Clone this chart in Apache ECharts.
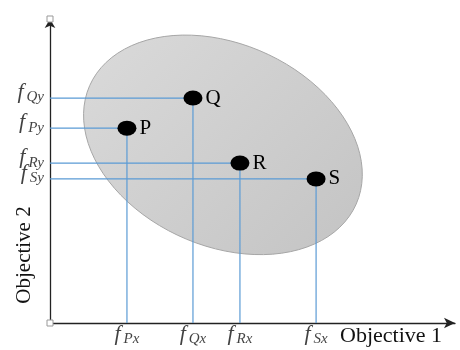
<!DOCTYPE html>
<html>
<head>
<meta charset="utf-8">
<script src="https://cdn.jsdelivr.net/npm/echarts@6/dist/echarts.min.js"></script>
<style>
    html, body { margin: 0; padding: 0; background: #fff; }
    #chart { width: 460px; height: 350px; }
</style>
</head>
<body>
<div id="chart"></div>
<script>
// points in the objective space
var pointNames = ['P', 'Q', 'R', 'S'];
var objective1 = [1.90, 3.53, 4.69, 6.57];
var objective2 = [6.41, 7.40, 5.26, 4.74];
var xTickNames = ['Px', 'Qx', 'Rx', 'Sx'];
var yTickNames = ['Py', 'Qy', 'Ry', 'Sy'];
// feasible region (ellipse): centre and two half axes
var regionCenter = [4.27, 5.86];
var regionAxisA = [3.29, -1.95];
var regionAxisB = [1.01, 3.04];
var axisCorners = [[0, 0], [0, 10]];

var serif = 'Liberation Serif';

// f on top, subscript pushed to the bottom of the line box
var tickRich = {
    f: { fontFamily: serif, fontStyle: 'italic', fontSize: 22, color: '#111', lineHeight: 24, verticalAlign: 'top' },
    s: { fontFamily: serif, fontStyle: 'italic', fontSize: 15, color: '#111', lineHeight: 10, verticalAlign: 'bottom' }
};

function tickLabel(names, position, distance, offset) {
    return {
        show: true,
        position: position,
        distance: distance,
        offset: offset,
        formatter: function (p) { return '{f|f}{s|\u2009' + names[p.dataIndex] + '}'; },
        rich: tickRich
    };
}

function renderRegion(params, api) {
    var pts = [];
    for (var k = 0; k < 90; k++) {
        var t = k / 90 * Math.PI * 2;
        pts.push(api.coord([
            regionCenter[0] + Math.cos(t) * regionAxisA[0] + Math.sin(t) * regionAxisB[0],
            regionCenter[1] + Math.cos(t) * regionAxisA[1] + Math.sin(t) * regionAxisB[1]
        ]));
    }
    return {
        type: 'polygon',
        shape: { points: pts },
        style: {
            fill: new echarts.graphic.LinearGradient(0, 0, 0.8, 1, [
                { offset: 0, color: '#dadada' },
                { offset: 1, color: '#c6c6c6' }
            ]),
            stroke: '#a6a6a6',
            lineWidth: 1
        }
    };
}

var option = {
    animation: false,
    grid: { left: 50, right: 5, top: 19, bottom: 27, outerBoundsMode: 'none' },
    xAxis: {
        type: 'value',
        min: 0,
        max: 10,
        splitLine: { show: false },
        axisTick: { show: false },
        axisLabel: { show: false },
        axisLine: { show: true, symbol: ['none', 'arrow'], symbolSize: [8, 11], lineStyle: { color: '#222', width: 1.3 } }
    },
    yAxis: {
        type: 'value',
        min: 0,
        max: 10,
        splitLine: { show: false },
        axisTick: { show: false },
        axisLabel: { show: false },
        axisLine: { show: true, symbol: ['none', 'arrow'], symbolSize: [8, 9], lineStyle: { color: '#222', width: 1.3 } }
    },
    graphic: [{
        type: 'text',
        x: 340,
        y: 336,
        style: { text: 'Objective 1', fontFamily: serif, fontSize: 22, fill: '#111', textAlign: 'left', textVerticalAlign: 'middle' }
    }, {
        type: 'text',
        x: 24,
        y: 255,
        rotation: Math.PI / 2,
        style: { text: 'Objective 2', fontFamily: serif, fontSize: 21, fill: '#111', textAlign: 'center', textVerticalAlign: 'middle' }
    }],
    series: [{
        type: 'custom',
        renderItem: renderRegion,
        data: [0],
        silent: true,
        z: 1
    }, {
        type: 'lines',
        coordinateSystem: 'cartesian2d',
        polyline: true,
        silent: true,
        z: 2,
        lineStyle: { color: '#5b9bd5', width: 1.2, opacity: 1 },
        data: objective1.map(function (x, i) {
            return { coords: [[0, objective2[i]], [x, objective2[i]], [x, 0]] };
        })
    }, {
        type: 'scatter',
        z: 3,
        symbolSize: [19, 15],
        itemStyle: { color: '#000', opacity: 1 },
        label: {
            show: true,
            position: 'right',
            distance: 3,
            formatter: function (p) { return pointNames[p.dataIndex]; },
            fontFamily: serif,
            fontSize: 21,
            color: '#000'
        },
        data: objective1.map(function (x, i) { return [x, objective2[i]]; })
    }, {
        // tick labels on objective 1
        type: 'scatter',
        silent: true,
        symbolSize: 0,
        label: tickLabel(xTickNames, 'bottom', 0, [0, 0]),
        data: objective1.map(function (x) { return [x, 0]; })
    }, {
        // tick labels on objective 2
        type: 'scatter',
        silent: true,
        symbolSize: 0,
        label: tickLabel(yTickNames, 'left', 6, [0, -5]),
        data: objective2.map(function (y) { return [0, y]; })
    }, {
        type: 'scatter',
        z: 4,
        symbol: 'rect',
        symbolSize: 6,
        symbolOffset: [[0, 1], [0, -6]],
        itemStyle: { color: '#fff', borderColor: '#999', borderWidth: 1, opacity: 1 },
        data: axisCorners
    }]
};

var echart = echarts.init(document.getElementById('chart'));
echart.setOption(option, true);
</script>
</body>
</html>
